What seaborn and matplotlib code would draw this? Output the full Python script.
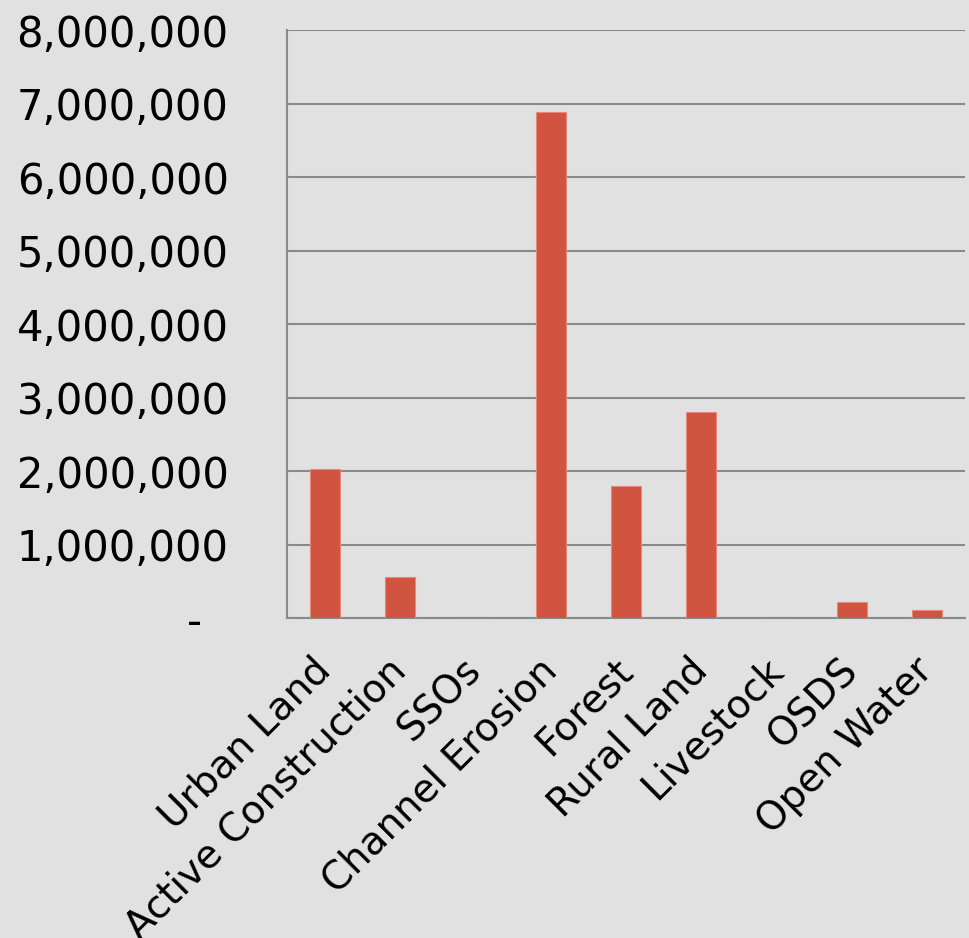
import matplotlib
matplotlib.use("Agg")
import matplotlib.pyplot as plt
import seaborn as sns
import pandas as pd
from matplotlib.ticker import FuncFormatter

categories = ["Urban Land", "Active Construction", "SSOs", "Channel Erosion",
              "Forest", "Rural Land", "Livestock", "OSDS", "Open Water"]
loads = [2030000, 566000, 0, 6890000, 1800000, 2800000, 0, 218000, 113000]
y_ticks = [0, 1000000, 2000000, 3000000, 4000000, 5000000, 6000000, 7000000, 8000000]

df = pd.DataFrame({"source": categories, "load": loads})

sns.set_theme(style="white")
plt.rcParams["font.family"] = ["DejaVu Sans"]

bg = "#e1e1e1"
bar_color = "#d0543f"
grid_color = "#8a8a8a"

fig = plt.figure(figsize=(9.69, 9.38), dpi=100, facecolor=bg)
ax = fig.add_axes([287 / 969, 1 - 618.3 / 938, 678 / 969, 588 / 938])
ax.set_facecolor(bg)

sns.barplot(data=df, x="source", y="load", color=bar_color, width=0.4,
            saturation=1, edgecolor="#e58a7a", linewidth=0.8, ax=ax, zorder=3)

ax.set_xlim(-0.5, len(categories) - 0.5)
ax.set_ylim(0, 8000000)
ax.set_yticks(y_ticks)
ax.yaxis.set_major_formatter(
    FuncFormatter(lambda v, _: "-  " if v == 0 else f"{int(v):,}"))

ax.grid(axis="y", color=grid_color, linewidth=1.5, zorder=0)
ax.grid(axis="x", visible=False)
ax.set_axisbelow(True)

for side in ["top", "right"]:
    ax.spines[side].set_visible(False)
for side in ["left", "bottom"]:
    ax.spines[side].set_color(grid_color)
    ax.spines[side].set_linewidth(1.5)

ax.set_xlabel("")
ax.set_ylabel("")
ax.tick_params(axis="y", length=0, pad=42, labelsize=30, labelcolor="black")
ax.tick_params(axis="x", length=0, pad=33, labelsize=28, labelcolor="black")
for lbl in ax.get_xticklabels():
    lbl.set_rotation(45)
    lbl.set_ha("right")
    lbl.set_va("center")
    lbl.set_rotation_mode("anchor")

fig.savefig("out.png", dpi=100, facecolor=bg)
